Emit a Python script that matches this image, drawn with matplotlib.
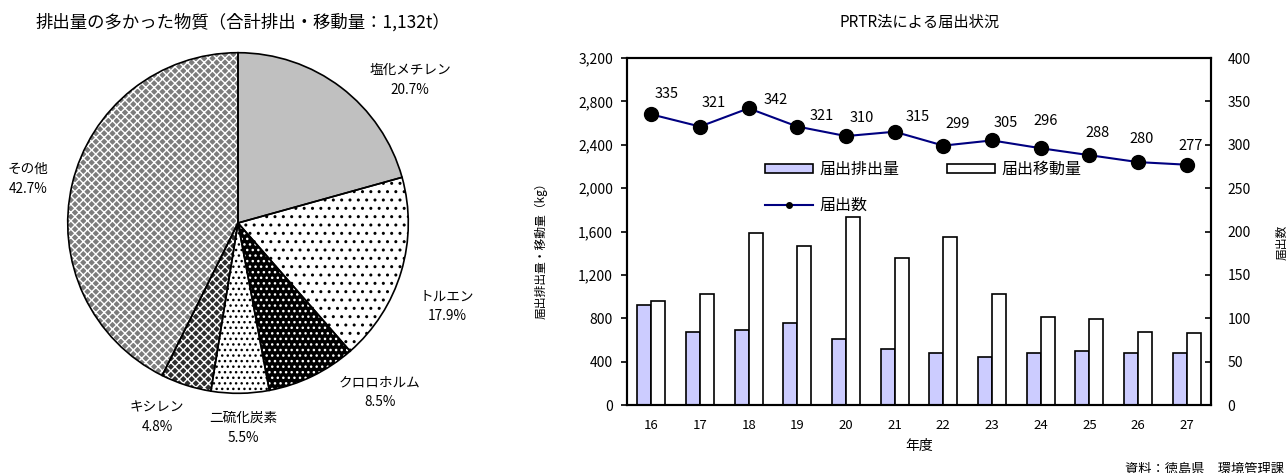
import matplotlib
matplotlib.use("Agg")
import matplotlib.pyplot as plt
from matplotlib.lines import Line2D
from matplotlib.patches import Rectangle
import numpy as np

plt.rcParams['font.family'] = ['Noto Sans CJK JP', 'DejaVu Sans']
plt.rcParams['hatch.linewidth'] = 1.0

# pie data
substances = ["塩化メチレン", "トルエン", "クロロホルム", "二硫化炭素", "キシレン", "その他"]
shares = [20.7, 17.9, 8.5, 5.5, 4.8, 42.7]

# bar / line data
years = ["16", "17", "18", "19", "20", "21", "22", "23", "24", "25", "26", "27"]
emission = [922, 677, 693, 760, 611, 513, 479, 446, 479, 497, 479, 479]
transfer = [955, 1023, 1585, 1468, 1731, 1352, 1550, 1023, 809, 790, 677, 662]
counts = [335, 321, 342, 321, 310, 315, 299, 305, 296, 288, 280, 277]

W, H = 1287, 473
fig = plt.figure(figsize=(W / 100, H / 100), dpi=100)


def px(x, y):
    # pixel position (from top-left) to figure fraction
    return x / W, 1 - y / H


# ---------------- pie ----------------
cx, cy, r = 238, 223, 172
ax1 = fig.add_axes([(cx - r) / W, (H - cy - r) / H, 2 * r / W, 2 * r / H])
faces = ["#c0c0c0", "white", "black", "white", "#2e2e2e", "#7c7c7c"]
hatch_cols = ["#c0c0c0", "black", "white", "black", "white", "white"]
hatches = [None, "..", "...", "...", "xxxx", "xxxx"]

wedges, _ = ax1.pie(shares, startangle=90, counterclock=False, colors=faces,
                    wedgeprops=dict(linewidth=0))
for w, hc, h in zip(wedges, hatch_cols, hatches):
    w.set_edgecolor(hc)
    if h:
        w.set_hatch(h)
ax1.pie(shares, startangle=90, counterclock=False,
        wedgeprops=dict(fill=False, edgecolor="black", linewidth=1.2))
ax1.set_xlim(-1.01, 1.01)
ax1.set_ylim(-1.01, 1.01)
ax1.set_aspect("equal")
ax1.axis("off")

label_pos = [(410, 80), (447, 306), (380, 392), (243, 428), (157, 417), (28, 179)]
for name, val, (lx, ly) in zip(substances, shares, label_pos):
    fig.text(*px(lx, ly), f"{name}\n{val}%", ha="center", va="center",
             fontsize=9.8, linespacing=1.5)

fig.text(*px(243, 22), "排出量の多かった物質（合計排出・移動量：1,132t）",
         ha="center", va="center", fontsize=12.5)

# ---------------- bar + line ----------------
L, R, T, B = 627, 1211, 58, 405
ax = fig.add_axes([L / W, (H - B) / H, (R - L) / W, (B - T) / H])
x = np.arange(len(years))
bw = 0.29
ax.bar(x - bw / 2, emission, bw, color="#ccccff", edgecolor="black", linewidth=1.2)
ax.bar(x + bw / 2, transfer, bw, color="white", edgecolor="black", linewidth=1.2)
ax.set_xlim(-0.5, len(years) - 0.5)
ax.set_ylim(0, 3200)
ax.set_yticks(np.arange(0, 3201, 400))
ax.set_yticklabels([f"{v:,}" for v in range(0, 3201, 400)])
ax.set_xticks(x)
ax.set_xticklabels(years)
ax.tick_params(axis="x", length=0, pad=10, labelsize=9.5)
ax.tick_params(axis="y", direction="out", length=4, width=1.2, pad=6, labelsize=10)
ax.set_ylabel("届出排出量・移動量（kg）", fontsize=8.5)
ax.yaxis.set_label_coords((548 - L) / (R - L), (B - 248) / (B - T))
ax.set_xlabel("年度", fontsize=10, labelpad=5)

ax2 = ax.twinx()
ax2.plot(x, counts, color="#000080", linewidth=1.5, marker="o", markersize=10,
         markerfacecolor="black", markeredgecolor="black")
ax2.set_ylim(0, 400)
ax2.set_yticks(np.arange(0, 401, 50))
ax2.tick_params(axis="y", direction="in", length=4, width=1.2, pad=12, labelsize=10)
ax2.set_ylabel("届出数", fontsize=8.5)
ax2.yaxis.set_label_coords((1276 - L) / (R - L), (B - 242) / (B - T))

offsets = [(15, 20), (14, 24), (27, 8), (24, 11), (16, 18), (23, 15),
           (14, 22), (14, 17), (5, 27), (8, 22), (4, 23), (4, 19)]
for xi, c, (dx, dy) in zip(x, counts, offsets):
    ax2.annotate(str(c), (xi, c), xytext=(dx * 0.72, dy * 0.72),
                 textcoords="offset points", ha="center", va="center", fontsize=10.5)

for a in (ax, ax2):
    for s in a.spines.values():
        s.set_linewidth(1.5)
        s.set_color("black")

h1 = Rectangle((0, 0), 1, 1, facecolor="#ccccff", edgecolor="black", linewidth=1.2)
h2 = Rectangle((0, 0), 1, 1, facecolor="white", edgecolor="black", linewidth=1.2)
h3 = Line2D([], [], color="#000080", linewidth=1.5, marker="o", markersize=4,
            markerfacecolor="black", markeredgecolor="black")
ax2.legend([h1, h3, h2], ["届出排出量", "届出数", "届出移動量"], ncol=2,
           loc="upper left", bbox_to_anchor=((765 - L) / (R - L), (B - 161) / (B - T)),
           frameon=False, fontsize=11.5, handlelength=3.0, handleheight=0.5,
           handletextpad=0.4, columnspacing=3.0, labelspacing=1.2,
           borderpad=0, borderaxespad=0)

fig.text(*px(920, 22), "PRTR法による届出状況", ha="center", va="center", fontsize=11)
fig.text(*px(1284, 469), "資料：徳島県　環境管理課", ha="right", va="center", fontsize=9.5)

fig.savefig("out.png", dpi=100)
